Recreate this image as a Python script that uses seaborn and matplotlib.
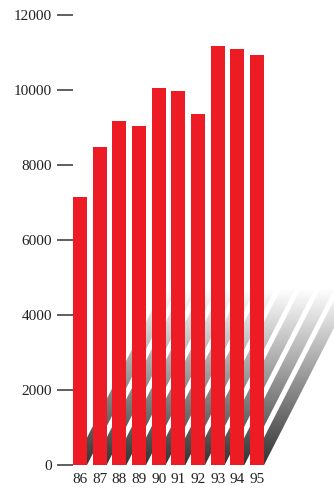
import numpy as np
import pandas as pd
import matplotlib
matplotlib.use("Agg")
import matplotlib.pyplot as plt
from matplotlib.patches import Polygon
import seaborn as sns

# Annual totals, 1986-1995
years = ["86", "87", "88", "89", "90", "91", "92", "93", "94", "95"]
values = [7150, 8480, 9170, 9040, 10050, 9970, 9360, 11170, 11090, 10930]
y_ticks = [0, 2000, 4000, 6000, 8000, 10000, 12000]

df = pd.DataFrame({"year": years, "value": values})

sns.set_theme(style="white")
plt.rcParams["font.family"] = ["Liberation Serif", "DejaVu Serif"]

W, H, DPI = 334, 495, 100
fig = plt.figure(figsize=(W / DPI, H / DPI), dpi=DPI)
ax_left, ax_bottom, ax_top = 73, 30, 15
ax = fig.add_axes([ax_left / W, ax_bottom / H, (W - ax_left) / W, (H - ax_bottom - ax_top) / H])

bar_w = 0.712
sns.barplot(data=df, x="year", y="value", color="#ED1C24", saturation=1,
            width=bar_w, ax=ax, zorder=3, linewidth=0, edgecolor="none")

x_lo = -bar_w / 2
x_hi = x_lo + (W - ax_left) / 19.67
ax.set_xlim(x_lo, x_hi)
ax.set_ylim(0, 12000)

# Slanted drop shadows: slope given in screen pixels (dx/dy), converted to data
px_per_cat = (W - ax_left) / (x_hi - x_lo)
px_per_val = (H - ax_bottom - ax_top) / 12000
slope = 0.51 * px_per_val / px_per_cat
shadow_top = 4700

grad = np.linspace(0.2, 1.0, 256).reshape(-1, 1)
for bar in ax.patches:
    x0 = bar.get_x()
    x1 = x0 + bar.get_width()
    dx = slope * shadow_top
    poly = Polygon([(x0, 0), (x1, 0), (x1 + dx, shadow_top), (x0 + dx, shadow_top)],
                   closed=True, facecolor="none", edgecolor="none")
    ax.add_patch(poly)
    im = ax.imshow(grad, cmap="gray", vmin=0, vmax=1, origin="lower",
                   extent=(x0, x1 + dx, 0, shadow_top), aspect="auto",
                   zorder=1, interpolation="bilinear")
    im.set_clip_path(poly)

ax.set_xlim(x_lo, x_hi)
ax.set_ylim(0, 12000)
ax.set_aspect("auto")

for s in ax.spines.values():
    s.set_visible(False)

ax.set_xlabel("")
ax.set_ylabel("")
ax.set_yticks(y_ticks)
ax.set_yticklabels([str(t) for t in y_ticks])
ax.tick_params(axis="y", which="major", direction="out", length=11.5, width=1.1,
               color="#333333", pad=3.6, labelsize=11, labelcolor="#222222", left=True)
ax.tick_params(axis="x", length=0, pad=6, labelsize=11, labelcolor="#222222")

fig.savefig("out.png", dpi=DPI, facecolor="white")
